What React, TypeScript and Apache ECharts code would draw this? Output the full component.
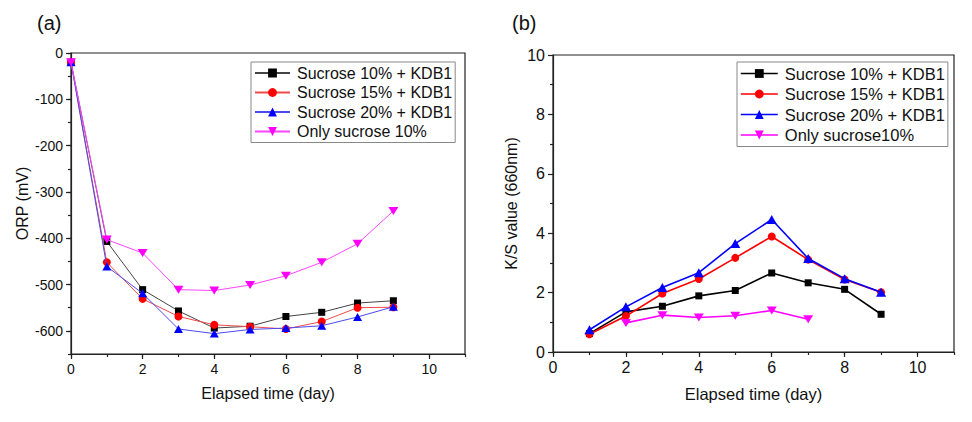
import React, { useEffect, useRef } from "react";
import * as echarts from "echarts";

// ---- Panel (a): ORP (mV) ----
const orpDays = [0, 1, 2, 3, 4, 5, 6, 7, 8, 9];
const orpSucrose10 = [-20, -407, -511, -557, -594, -590, -569, -560, -540, -535];
const orpSucrose15 = [-20, -452, -531, -569, -587, -591, -596, -580, -550, -549];
const orpSucrose20 = [-20, -461, -519, -596, -606, -597, -594, -589, -570, -548];
const orpOnly10 = [-20, -403, -432, -511, -513, -501, -481, -452, -412, -341];
const orpYTicks = [-600, -500, -400, -300, -200, -100, 0];

// ---- Panel (b): K/S value (660nm) ----
const ksDays = [1, 2, 3, 4, 5, 6, 7, 8, 9];
const ksSucrose10 = [0.62, 1.35, 1.54, 1.89, 2.07, 2.66, 2.33, 2.11, 1.27];
const ksSucrose15 = [0.6, 1.21, 1.97, 2.46, 3.17, 3.89, 3.11, 2.44, 2.01];
const ksSucrose20 = [0.75, 1.52, 2.17, 2.67, 3.65, 4.46, 3.15, 2.47, 2.01];
const ksOnlyDays = [2, 3, 4, 5, 6, 7];
const ksOnly10 = [0.98, 1.24, 1.16, 1.22, 1.4, 1.1];

const namesA = ["Sucrose 10% + KDB1", "Sucrose 15% + KDB1", "Sucrose 20% + KDB1", "Only sucrose 10%"];
const namesB = ["Sucrose 10% + KDB1", "Sucrose 15% + KDB1", "Sucrose 20% + KDB1", "Only sucrose10%"];

const FONT = "Liberation Sans";
const COLORS = ["#000000", "#ff0000", "#0000ff", "#ff00ff"];
const LINE_A = ["#444444", "#f04a4a", "#4a4af0", "#ff44ff"];
const SYMBOLS = ["rect", "circle", "triangle", "path://M0,0L10,0L5,8.66Z"];
const SIZES_A: any[] = [7, 8, [9, 8], [10, 8]];
const SIZES_B: any[] = [7, 8, [10, 9], [10, 8]];

const pairs = (xs: number[], ys: number[]) => xs.map((x, i) => [x, ys[i]]);

const axisLineStyle = { color: "#222", width: 1.2 };

export default function App() {
  const ref = useRef<HTMLDivElement>(null);
  useEffect(() => {
    if (!ref.current) return;
    const chart = echarts.init(ref.current, null, { renderer: "svg" });

    const seriesA = [orpSucrose10, orpSucrose15, orpSucrose20, orpOnly10].map((ys, i) => ({
      type: "line",
      name: namesA[i],
      xAxisIndex: 0,
      yAxisIndex: 0,
      data: pairs(orpDays, ys),
      symbol: SYMBOLS[i],
      symbolSize: SIZES_A[i],
      itemStyle: { color: COLORS[i] },
      lineStyle: { color: LINE_A[i], width: 1 },
      z: 3 + i,
    }));
    const bXs = [ksDays, ksDays, ksDays, ksOnlyDays];
    const seriesB = [ksSucrose10, ksSucrose15, ksSucrose20, ksOnly10].map((ys, i) => ({
      type: "line",
      name: namesB[i],
      xAxisIndex: 2,
      yAxisIndex: 2,
      data: pairs(bXs[i], ys),
      symbol: SYMBOLS[i],
      symbolSize: SIZES_B[i],
      itemStyle: { color: COLORS[i] },
      lineStyle: { color: COLORS[i], width: 1.6 },
      z: 3 + i,
    }));

    const legendCommon = {
      orient: "vertical",
      itemWidth: 35,
      itemHeight: 11,
      itemGap: 3.5,
      backgroundColor: "#fff",
      borderColor: "#888",
      borderWidth: 1,
      borderRadius: 0,
      selectedMode: false,
      textStyle: { fontFamily: FONT, fontSize: 16, color: "#111", lineHeight: 16, padding: [0, 0, 0, 2] },
    };

    chart.setOption({
      animation: false,
      backgroundColor: "#fff",
      textStyle: { fontFamily: FONT },
      graphic: [
        { type: "text", left: 37, top: 13, style: { text: "(a)", font: `20px ${FONT}`, fill: "#111" } },
        { type: "text", left: 512, top: 13, style: { text: "(b)", font: `20px ${FONT}`, fill: "#111" } },
      ],
      legend: [
        {
          ...legendCommon,
          left: 251,
          top: 62,
          padding: [3, 3, 3, 3],
          data: namesA.map((n) => ({ name: n })),
        },
        {
          ...legendCommon,
          left: 737,
          top: 62,
          itemWidth: 37,
          padding: [3, 3, 3, 3],
          textStyle: { ...legendCommon.textStyle, fontSize: 16.5 },
          data: namesB.map((n, i) => ({
            name: n,
            itemStyle: { color: COLORS[i] },
            lineStyle: { color: COLORS[i], width: 1.6 },
          })),
        },
      ],
      grid: [
        { left: 71, top: 53, width: 394, height: 301, show: true, borderColor: "#222", borderWidth: 1.2, backgroundColor: "transparent" },
        { left: 553, top: 55, width: 401, height: 297, show: true, borderColor: "#222", borderWidth: 1.2, backgroundColor: "transparent" },
      ],
      xAxis: [
        {
          type: "value", gridIndex: 0, position: "bottom", min: 0, max: 11, interval: 2,
          axisLine: { onZero: false, lineStyle: axisLineStyle },
          axisTick: { length: 5, lineStyle: axisLineStyle },
          axisLabel: { fontSize: 14, color: "#111", margin: 8, showMaxLabel: false, fontFamily: FONT },
          splitLine: { show: false },
          name: "Elapsed time (day)", nameLocation: "middle", nameGap: 31,
          nameTextStyle: { fontSize: 16, color: "#111", fontFamily: FONT },
        },
        {
          type: "value", gridIndex: 0, position: "bottom", min: 0, max: 11, interval: 1,
          axisLine: { show: false, onZero: false },
          axisTick: { length: 3, lineStyle: axisLineStyle },
          axisLabel: { show: false },
          splitLine: { show: false },
        },
        {
          type: "value", gridIndex: 1, position: "bottom", min: 0, max: 11, interval: 2,
          axisLine: { onZero: false, lineStyle: axisLineStyle },
          axisTick: { length: 5, lineStyle: axisLineStyle },
          axisLabel: { fontSize: 16, color: "#111", margin: 7, showMaxLabel: false, fontFamily: FONT },
          splitLine: { show: false },
          name: "Elapsed time (day)", nameLocation: "middle", nameGap: 33,
          nameTextStyle: { fontSize: 16.5, color: "#111", fontFamily: FONT },
        },
        {
          type: "value", gridIndex: 1, position: "bottom", min: 0, max: 11, interval: 1,
          axisLine: { show: false, onZero: false },
          axisTick: { length: 3, lineStyle: axisLineStyle },
          axisLabel: { show: false },
          splitLine: { show: false },
        },
      ],
      yAxis: [
        {
          type: "value", gridIndex: 0, position: "left", min: -650, max: 0,
          axisLine: { onZero: false, lineStyle: axisLineStyle },
          axisTick: { length: 5, lineStyle: axisLineStyle, customValues: orpYTicks },
          axisLabel: { fontSize: 14, color: "#111", margin: 8, fontFamily: FONT, customValues: orpYTicks },
          splitLine: { show: false },
          name: "ORP (mV)", nameLocation: "middle", nameGap: 41,
          nameTextStyle: { fontSize: 16, color: "#111", fontFamily: FONT },
        },
        {
          type: "value", gridIndex: 0, position: "left", min: -650, max: 0, interval: 50,
          axisLine: { show: false, onZero: false },
          axisTick: { length: 3, lineStyle: axisLineStyle },
          axisLabel: { show: false },
          splitLine: { show: false },
        },
        {
          type: "value", gridIndex: 1, position: "left", min: 0, max: 10, interval: 2,
          axisLine: { onZero: false, lineStyle: axisLineStyle },
          axisTick: { length: 5, lineStyle: axisLineStyle },
          minorTick: { show: true, splitNumber: 2, length: 3, lineStyle: axisLineStyle },
          axisLabel: { fontSize: 16, color: "#111", margin: 8, fontFamily: FONT },
          splitLine: { show: false },
          name: "K/S value (660nm)", nameLocation: "middle", nameGap: 34,
          nameTextStyle: { fontSize: 16, color: "#111", fontFamily: FONT },
        },
      ],
      series: [...seriesA, ...seriesB],
    });
    return () => chart.dispose();
  }, []);
  return (
    <div
      ref={ref}
      style={{ position: "absolute", left: 0, top: 0, width: 972, height: 422, background: "#fff" }}
    />
  );
}
